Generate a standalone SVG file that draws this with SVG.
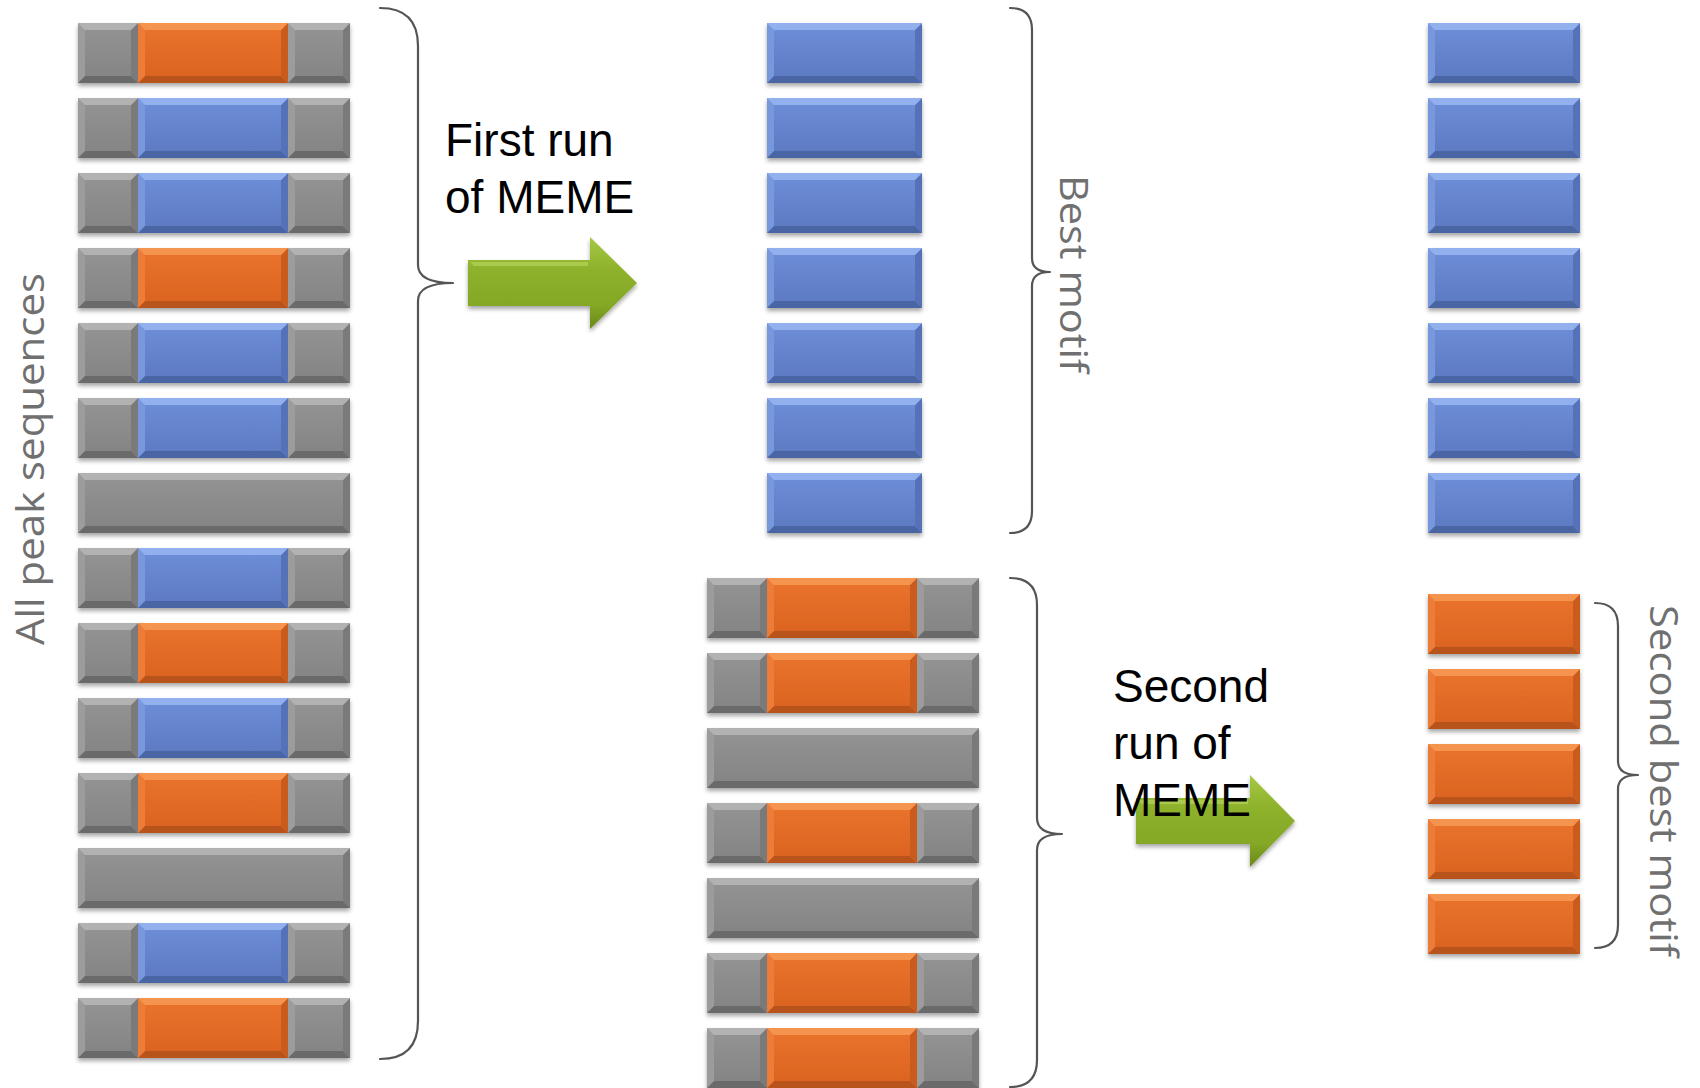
<svg xmlns="http://www.w3.org/2000/svg" xmlns:xlink="http://www.w3.org/1999/xlink" width="1700" height="1088" viewBox="0 0 1700 1088">
<style>
.brace{fill:none;stroke:#555;stroke-width:2.2;stroke-linecap:round;stroke-linejoin:round}
.lbl{font-family:"Liberation Sans",Arial,sans-serif;font-size:46px;fill:#000}
.side{font-family:"Open Sans","Noto Sans",sans-serif;font-size:38px;fill:#707070}
.blk{filter:url(#sh)}
</style>
<defs>
<filter id="sh" x="-5%" y="-15%" width="110%" height="140%"><feDropShadow dx="0" dy="3" stdDeviation="2.2" flood-color="#000" flood-opacity="0.35"/></filter>
<linearGradient id="fk" x1="0" y1="0" x2="0" y2="1"><stop offset="0" stop-color="#929292"/><stop offset="1" stop-color="#858585"/></linearGradient>
<linearGradient id="fo" x1="0" y1="0" x2="0" y2="1"><stop offset="0" stop-color="#E8722C"/><stop offset="1" stop-color="#DC6421"/></linearGradient>
<linearGradient id="fb" x1="0" y1="0" x2="0" y2="1"><stop offset="0" stop-color="#6C8CD6"/><stop offset="1" stop-color="#5D7BC3"/></linearGradient>
<linearGradient id="fg" x1="0" y1="0" x2="0" y2="1"><stop offset="0" stop-color="#A6C845"/><stop offset="0.35" stop-color="#8EB22C"/><stop offset="0.75" stop-color="#84A726"/><stop offset="1" stop-color="#6A881A"/></linearGradient>
<g id="k60"><rect width="60" height="60" fill="#9c9c9c"/><polygon points="60,0 60,60 53,53 53,7" fill="#7a7a7a"/><polygon points="0,0 60,0 53,7 7,7" fill="#b2b2b2"/><polygon points="0,60 60,60 53,53 7,53" fill="#6a6a6a"/><rect x="7" y="7" width="46" height="46" fill="url(#fk)"/></g>
<g id="k62"><rect width="62" height="60" fill="#9c9c9c"/><polygon points="62,0 62,60 55,53 55,7" fill="#7a7a7a"/><polygon points="0,0 62,0 55,7 7,7" fill="#b2b2b2"/><polygon points="0,60 62,60 55,53 7,53" fill="#6a6a6a"/><rect x="7" y="7" width="48" height="46" fill="url(#fk)"/></g>
<g id="k272"><rect width="272" height="60" fill="#9c9c9c"/><polygon points="272,0 272,60 265,53 265,7" fill="#7a7a7a"/><polygon points="0,0 272,0 265,7 7,7" fill="#b2b2b2"/><polygon points="0,60 272,60 265,53 7,53" fill="#6a6a6a"/><rect x="7" y="7" width="258" height="46" fill="url(#fk)"/></g>
<g id="o150"><rect width="150" height="60" fill="#EC7C38"/><polygon points="150,0 150,60 143,53 143,7" fill="#C95B1C"/><polygon points="0,0 150,0 143,7 7,7" fill="#F59450"/><polygon points="0,60 150,60 143,53 7,53" fill="#B8521A"/><rect x="7" y="7" width="136" height="46" fill="url(#fo)"/></g>
<g id="o152"><rect width="152" height="60" fill="#EC7C38"/><polygon points="152,0 152,60 145,53 145,7" fill="#C95B1C"/><polygon points="0,0 152,0 145,7 7,7" fill="#F59450"/><polygon points="0,60 152,60 145,53 7,53" fill="#B8521A"/><rect x="7" y="7" width="138" height="46" fill="url(#fo)"/></g>
<g id="b150"><rect width="150" height="60" fill="#7898DE"/><polygon points="150,0 150,60 143,53 143,7" fill="#5472B8"/><polygon points="0,0 150,0 143,7 7,7" fill="#92B0EE"/><polygon points="0,60 150,60 143,53 7,53" fill="#4A65A3"/><rect x="7" y="7" width="136" height="46" fill="url(#fb)"/></g>
<g id="b152"><rect width="152" height="60" fill="#7898DE"/><polygon points="152,0 152,60 145,53 145,7" fill="#5472B8"/><polygon points="0,0 152,0 145,7 7,7" fill="#92B0EE"/><polygon points="0,60 152,60 145,53 7,53" fill="#4A65A3"/><rect x="7" y="7" width="138" height="46" fill="url(#fb)"/></g>
<g id="b155"><rect width="155" height="60" fill="#7898DE"/><polygon points="155,0 155,60 148,53 148,7" fill="#5472B8"/><polygon points="0,0 155,0 148,7 7,7" fill="#92B0EE"/><polygon points="0,60 155,60 148,53 7,53" fill="#4A65A3"/><rect x="7" y="7" width="141" height="46" fill="url(#fb)"/></g>
<g id="ro"><use href="#k60"/><use href="#o150" x="60"/><use href="#k62" x="210"/></g>
<g id="rb"><use href="#k60"/><use href="#b150" x="60"/><use href="#k62" x="210"/></g>
<g id="rg"><use href="#k272"/></g>
</defs>
<rect width="1700" height="1088" fill="#fff"/>

<g id="all-peak-sequences">
<g id="l1" class="blk"><use href="#ro" x="78" y="23"/></g>
<g id="l2" class="blk"><use href="#rb" x="78" y="98"/></g>
<g id="l3" class="blk"><use href="#rb" x="78" y="173"/></g>
<g id="l4" class="blk"><use href="#ro" x="78" y="248"/></g>
<g id="l5" class="blk"><use href="#rb" x="78" y="323"/></g>
<g id="l6" class="blk"><use href="#rb" x="78" y="398"/></g>
<g id="l7" class="blk"><use href="#rg" x="78" y="473"/></g>
<g id="l8" class="blk"><use href="#rb" x="78" y="548"/></g>
<g id="l9" class="blk"><use href="#ro" x="78" y="623"/></g>
<g id="l10" class="blk"><use href="#rb" x="78" y="698"/></g>
<g id="l11" class="blk"><use href="#ro" x="78" y="773"/></g>
<g id="l12" class="blk"><use href="#rg" x="78" y="848"/></g>
<g id="l13" class="blk"><use href="#rb" x="78" y="923"/></g>
<g id="l14" class="blk"><use href="#ro" x="78" y="998"/></g>
<text class="side" transform="translate(44,459) rotate(-90)" text-anchor="middle" textLength="372" lengthAdjust="spacingAndGlyphs">All peak sequences</text>
</g>

<g id="best-motif">
<g id="m1" class="blk"><use href="#b155" x="767" y="23"/></g>
<g id="m2" class="blk"><use href="#b155" x="767" y="98"/></g>
<g id="m3" class="blk"><use href="#b155" x="767" y="173"/></g>
<g id="m4" class="blk"><use href="#b155" x="767" y="248"/></g>
<g id="m5" class="blk"><use href="#b155" x="767" y="323"/></g>
<g id="m6" class="blk"><use href="#b155" x="767" y="398"/></g>
<g id="m7" class="blk"><use href="#b155" x="767" y="473"/></g>
<text class="side" transform="translate(1060,274) rotate(90)" text-anchor="middle" textLength="198" lengthAdjust="spacingAndGlyphs">Best motif</text>
</g>

<g id="remaining-sequences">
<g id="r1" class="blk"><use href="#ro" x="707" y="578"/></g>
<g id="r2" class="blk"><use href="#ro" x="707" y="653"/></g>
<g id="r3" class="blk"><use href="#rg" x="707" y="728"/></g>
<g id="r4" class="blk"><use href="#ro" x="707" y="803"/></g>
<g id="r5" class="blk"><use href="#rg" x="707" y="878"/></g>
<g id="r6" class="blk"><use href="#ro" x="707" y="953"/></g>
<g id="r7" class="blk"><use href="#ro" x="707" y="1028"/></g>
</g>

<g id="best-motif-copy">
<g id="f1" class="blk"><use href="#b152" x="1428" y="23"/></g>
<g id="f2" class="blk"><use href="#b152" x="1428" y="98"/></g>
<g id="f3" class="blk"><use href="#b152" x="1428" y="173"/></g>
<g id="f4" class="blk"><use href="#b152" x="1428" y="248"/></g>
<g id="f5" class="blk"><use href="#b152" x="1428" y="323"/></g>
<g id="f6" class="blk"><use href="#b152" x="1428" y="398"/></g>
<g id="f7" class="blk"><use href="#b152" x="1428" y="473"/></g>
</g>

<g id="second-best-motif">
<g id="s1" class="blk"><use href="#o152" x="1428" y="594"/></g>
<g id="s2" class="blk"><use href="#o152" x="1428" y="669"/></g>
<g id="s3" class="blk"><use href="#o152" x="1428" y="744"/></g>
<g id="s4" class="blk"><use href="#o152" x="1428" y="819"/></g>
<g id="s5" class="blk"><use href="#o152" x="1428" y="894"/></g>
<text class="side" transform="translate(1650,781) rotate(90)" text-anchor="middle" textLength="352" lengthAdjust="spacingAndGlyphs">Second best motif</text>
</g>

<g id="connectors">
<path class="brace" d="M380,8 Q418,8 418,46 L418,265 Q418,283 453,283 Q418,283 418,301 L418,1021 Q418,1059 380,1059"/>
<path class="brace" d="M1010,8 Q1032,8 1032,30 L1032,258 Q1032,272 1050,272 Q1032,272 1032,286 L1032,511 Q1032,533 1010,533"/>
<path class="brace" d="M1010,578 Q1037,578 1037,605 L1037,818 Q1037,834 1062,834 Q1037,834 1037,850 L1037,1060 Q1037,1087 1010,1087"/>
<path class="brace" d="M1595,603 Q1618,603 1618,626 L1618,761 Q1618,775 1638,775 Q1618,775 1618,789 L1618,925 Q1618,948 1595,948"/>
<g id="arrow1" filter="url(#sh)"><polygon points="468,260 590,260 590,237 637,283 590,329 590,306 468,306" fill="url(#fg)"/><polygon points="470,262 588,262 588,266 474,266" fill="#B5D35A" opacity="0.7"/></g>
<g id="arrow2" filter="url(#sh)"><polygon points="1136,798 1250,798 1250,775 1295,821 1250,867 1250,844 1136,844" fill="url(#fg)"/><polygon points="1138,800 1248,800 1248,804 1142,804" fill="#B5D35A" opacity="0.7"/></g>
</g>

<g id="labels">
<text class="lbl" x="445" y="156">First run</text>
<text class="lbl" x="445" y="213">of MEME</text>
<text class="lbl" x="1113" y="702">Second</text>
<text class="lbl" x="1113" y="759">run of</text>
<text class="lbl" x="1113" y="816">MEME</text>
</g>
</svg>
